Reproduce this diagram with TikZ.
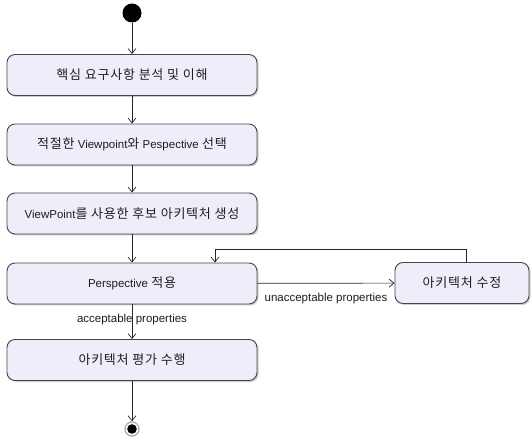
\documentclass[tikz,border=0pt]{standalone}
\usepackage{fontspec}
\setmainfont{Liberation Sans}
\newfontfamily\kr{Noto Sans CJK KR}[LetterSpace=6]
\usetikzlibrary{arrows.meta,shadows}
\definecolor{boxfill}{RGB}{238,238,250}
\definecolor{boxline}{RGB}{70,70,70}
\definecolor{txt}{RGB}{30,30,30}
\newcommand\K[1]{{\kr\fontsize{13}{15}\selectfont #1}}
\begin{document}
\begin{tikzpicture}[x=1pt,y=-1pt,
  actbox/.style={draw=boxline, line width=0.9pt, fill=boxfill, rounded corners=8pt,
    minimum width=250pt, minimum height=41pt, inner sep=0pt, text=txt,
    font=\fontsize{11.5}{13}\selectfont,
    drop shadow={shadow xshift=1.5pt, shadow yshift=-1.5pt, fill=gray!50, opacity=0.8}},
  flow/.style={draw=black!85, line width=0.7pt, -{Straight Barb[length=5pt,width=8pt]}},
  lbl/.style={font=\fontsize{11.5}{13}\selectfont, inner sep=0pt, text=txt}]
\useasboundingbox (0,0) rectangle (531,441);
\node[circle, fill=black, minimum size=19pt, inner sep=0pt] (start) at (132,13) {};
\node[actbox] (a1) at (132,75) {\K{핵심 요구사항 분석 및 이해}};
\node[actbox] (a2) at (132,144.5) {\K{적절한} Viewpoint\K{와} Pespective \K{선택}};
\node[actbox] (a3) at (132,213.5) {ViewPoint\K{를 사용한 후보 아키텍처 생성}};
\node[actbox] (a4) at (132,283.5) {Perspective \K{적용}};
\node[actbox] (a5) at (132,360) {\K{아키텍처 평가 수행}};
\node[actbox, minimum width=134pt] (a6) at (462,283) {\K{아키텍처 수정}};
\node[circle, draw=gray!60, line width=1.5pt, fill=white, minimum size=14pt, inner sep=0pt] (end) at (132,429) {};
\fill[black] (end.center) circle (4.8pt);
\draw[flow] (start) -- (a1);
\draw[flow] (a1) -- (a2);
\draw[flow] (a2) -- (a3);
\draw[flow] (a3) -- (a4);
\draw[flow] (a4) -- node[lbl, pos=0.45]{acceptable properties} (a5);
\draw[flow] (a5) -- (end);
\draw[flow] (a4) -- node[lbl, midway, yshift=-15pt]{unacceptable properties} (a6);
\coordinate (fbR) at (466,249);
\coordinate (fbL) at (215,249);
\draw[flow] (a6.north -| fbR) -- (fbR) -- (fbL) -- (a4.north -| fbL);
\end{tikzpicture}
\end{document}
